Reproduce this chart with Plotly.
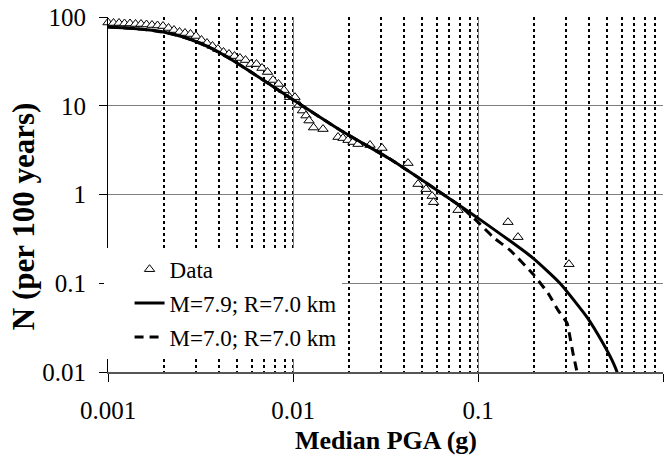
import plotly.graph_objects as go

# Observed data (Median PGA in g, N per 100 years)
data_pga = [0.001000, 0.001071, 0.001147, 0.001228, 0.001315, 0.001408, 0.001508, 0.001615, 0.001729, 0.001852,
            0.001983, 0.002123, 0.002274, 0.002435, 0.002607, 0.002792, 0.002990, 0.003202, 0.003428, 0.003671,
            0.003931, 0.004210, 0.004508, 0.004828, 0.005170, 0.005536, 0.005928, 0.006348, 0.006798, 0.007280,
            0.007796, 0.008348, 0.008940, 0.009574, 0.01025, 0.01078, 0.01125, 0.01175, 0.01220, 0.01291,
            0.01453, 0.01751, 0.01863, 0.01983, 0.02110, 0.02246, 0.02607, 0.03027, 0.04184, 0.04740,
            0.05236, 0.0565, 0.0575, 0.07796, 0.1453, 0.1645, 0.3103]
data_n = [86.7, 85.6, 85.6, 84.5, 84.5, 83.4, 83.4, 82.3, 81.2, 80.2,
          79.1, 75.2, 71.3, 67.8, 66.0, 64.3, 61.1, 55.0, 50.9, 47.1,
          43.6, 40.3, 38.3, 36.3, 34.5, 32.7, 29.5, 29.5, 26.6, 24.0,
          19.5, 17.6, 15.0, 12.5, 12.5, 10.2, 8.83, 7.75, 6.81, 5.68,
          5.46, 4.44, 4.32, 4.10, 3.90, 3.70, 3.61, 3.34, 2.26, 1.31,
          1.15, 0.96, 0.82, 0.667, 0.488, 0.331, 0.164]

# Model curve M=7.9; R=7.0 km
m79_pga = [0.001, 0.001315, 0.001686, 0.002163, 0.002774, 0.003558, 0.004566, 0.005856, 0.01, 0.01795,
           0.03344, 0.06005, 0.1, 0.1983, 0.2774, 0.3882, 0.4739, 0.530, 0.564, 0.57]
m79_n = [77.2, 74.6, 71.2, 65.2, 56.1, 45.1, 33.9, 24.4, 11.7, 5.32,
         2.51, 1.12, 0.542, 0.192, 0.100, 0.0415, 0.0211, 0.0136, 0.0100, 0.0090]

# Model curve M=7.0; R=7.0 km
m70_pga = [0.001, 0.001315, 0.001686, 0.002163, 0.002774, 0.003558, 0.004566, 0.005856, 0.01, 0.01795,
           0.03344, 0.06005, 0.08, 0.1, 0.1206, 0.1489, 0.1983, 0.2390, 0.2707, 0.3029,
           0.3144, 0.3262, 0.3428, 0.345]
m70_n = [77.2, 74.6, 71.2, 65.2, 56.1, 45.1, 33.9, 24.4, 11.7, 5.32,
         2.51, 1.12, 0.74, 0.489, 0.331, 0.236, 0.127, 0.0773, 0.0498, 0.0355,
         0.0247, 0.0163, 0.0100, 0.0090]

x_tickvals = [0.001, 0.01, 0.1, 1]
x_ticktext = ["0.001", "0.01", "0.1", "1"]
y_tickvals = [0.01, 0.1, 1, 10, 100]
y_ticktext = ["0.01", "0.1", "1", "10", "100"]

SERIF = "Liberation Serif"

fig = go.Figure()
fig.add_trace(go.Scatter(
    x=data_pga, y=data_n, mode="markers", name="Data", legendgroup="a",
    marker=dict(symbol="triangle-up", size=9, color="white",
                line=dict(color="black", width=1)),
    cliponaxis=False,
))
fig.add_trace(go.Scatter(
    x=m79_pga, y=m79_n, mode="lines", name="M=7.9; R=7.0 km", legendgroup="b",
    line=dict(color="black", width=3, shape="spline", smoothing=0.5),
))
fig.add_trace(go.Scatter(
    x=m70_pga, y=m70_n, mode="lines", name="M=7.0; R=7.0 km", legendgroup="c",
    line=dict(color="black", width=3, dash="9px,6px", shape="spline", smoothing=0.5),
))

fig.update_layout(
    width=665, height=460,
    margin=dict(l=108, r=2, t=17, b=88),
    paper_bgcolor="white", plot_bgcolor="white",
    font=dict(family=SERIF, color="black", size=23),
    showlegend=True,
    legend=dict(
        x=-0.008, y=0.35, xanchor="left", yanchor="top",
        bgcolor="white", borderwidth=0,
        font=dict(family=SERIF, size=23, color="black"),
        tracegroupgap=1, indentation=26,
    ),
    annotations=[
        dict(text="<b>Median PGA (g)</b>", xref="paper", yref="paper",
             x=0.5, y=-0.194, xanchor="center", yanchor="middle",
             showarrow=False, font=dict(family=SERIF, size=26, color="black")),
        dict(text="<b>N (per 100 years)</b>", xref="paper", yref="paper",
             x=-0.153, y=0.439, xanchor="center", yanchor="middle", textangle=-90,
             showarrow=False, font=dict(family=SERIF, size=31, color="black")),
    ],
)

fig.update_xaxes(
    type="log", range=[-3, 0],
    tickvals=x_tickvals, ticktext=x_ticktext,
    ticks="outside", ticklen=8, tickcolor="black", tickwidth=1,
    ticklabelstandoff=7,
    tickfont=dict(family=SERIF, size=25, color="black"),
    showgrid=True, gridcolor="#7f7f7f", gridwidth=1,
    showline=True, linecolor="#555555", linewidth=2,
    zeroline=False,
    minor=dict(dtick="D1", showgrid=True, gridcolor="black", gridwidth=2,
               griddash="dot", ticks=""),
)
fig.update_yaxes(
    type="log", range=[-2, 2],
    tickvals=y_tickvals, ticktext=y_ticktext,
    ticks="outside", ticklen=8, tickcolor="black", tickwidth=1,
    ticklabelstandoff=8,
    tickfont=dict(family=SERIF, size=25, color="black"),
    showgrid=True, gridcolor="#7f7f7f", gridwidth=1,
    showline=True, linecolor="black", linewidth=1,
    zeroline=False,
)

fig.write_html(
    "out.html",
    config={"displayModeBar": False},
    post_script="document.body.style.margin='0';document.body.style.overflow='hidden';",
)
